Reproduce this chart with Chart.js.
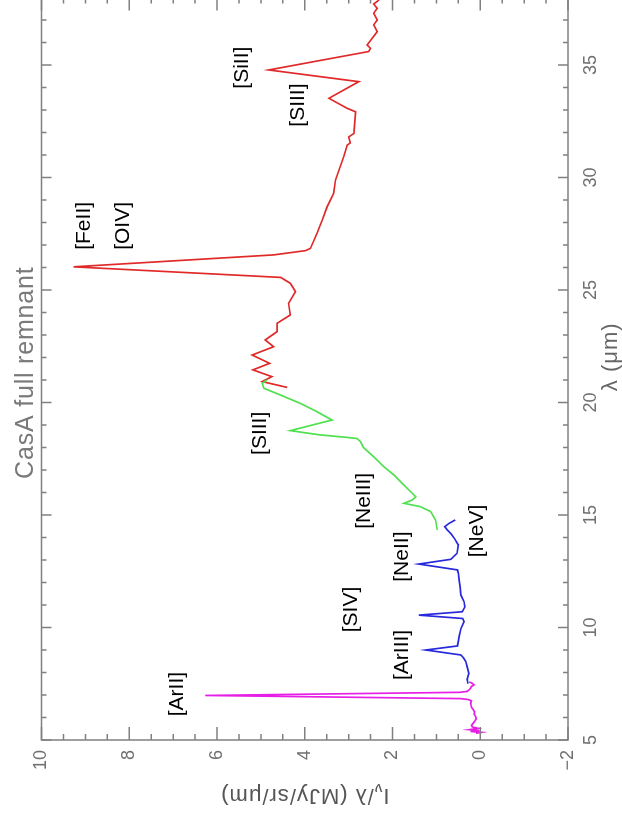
<!DOCTYPE html>
<html>
<head>
<meta charset="utf-8">
<script src="https://cdn.jsdelivr.net/npm/chart.js@4.4.0/dist/chart.umd.min.js"></script>
<style>
html, body { margin: 0; padding: 0; width: 622px; height: 817px; overflow: hidden; background: #ffffff; }
#wrap { position: absolute; left: 0; top: 817px; width: 830px; height: 622px; transform-origin: 0 0; transform: rotate(-90deg); }
canvas { display: block; }
</style>
</head>
<body>
<div id="wrap"><canvas id="c" width="830" height="622"></canvas></div>
<script>
// ---- text ----
const chartTitle = 'CasA full remnant';
const xAxisTitle = 'λ (μm)';
const yAxisTitleMain = 'I';
const yAxisTitleSub = 'ν';
const yAxisTitleRest = '/λ (MJy/sr/μm)';

// ---- tick labels ----
const lambdaTicks = [5, 10, 15, 20, 25, 30, 35];
const intensityTicks = [-2, 0, 2, 4, 6, 8, 10];

// ---- spectrum segments (wavelength in μm, I_nu/lambda) ----
const magentaWave = [5.30, 5.34, 5.38, 5.42, 5.46, 5.52, 5.58, 5.65, 5.75, 5.85, 5.95, 6.05, 6.15, 6.25, 6.35, 6.45, 6.55, 6.65, 6.74, 6.80, 6.84, 6.98, 7.12, 7.16, 7.22, 7.30, 7.38, 7.45, 7.52, 7.58];
const magentaFlux = [0.10, -0.02, 0.22, 0.02, 0.25, 0.05, 0.18, 0.20, 0.16, 0.12, 0.09, 0.11, 0.14, 0.13, 0.16, 0.20, 0.21, 0.22, 0.20, 0.28, 0.45, 6.27, 0.45, 0.30, 0.26, 0.22, 0.20, 0.14, 0.18, 0.25];

const blueWave = [7.50, 7.70, 7.96, 8.26, 8.49, 8.65, 8.78, 9.00, 9.18, 9.40, 9.60, 9.96, 10.26, 10.40, 10.55, 10.70, 10.92, 11.15, 11.44, 11.80, 12.11, 12.40, 12.56, 12.82, 13.03, 13.30, 13.67, 13.96, 14.15, 14.33, 14.48, 14.63, 14.78];
const blueFlux = [0.28, 0.30, 0.26, 0.30, 0.33, 0.38, 0.44, 1.24, 0.52, 0.50, 0.48, 0.44, 0.37, 0.40, 1.40, 0.41, 0.35, 0.37, 0.44, 0.46, 0.48, 0.50, 0.52, 1.40, 0.67, 0.53, 0.50, 0.59, 0.66, 0.75, 0.81, 0.71, 0.57];

const greenWave = [14.33, 14.78, 15.15, 15.37, 15.52, 15.67, 15.81, 16.04, 16.41, 16.78, 17.15, 17.59, 18.00, 18.26, 18.40, 18.45, 18.56, 18.75, 19.22, 19.59, 19.96, 20.33, 20.63, 20.85, 21.00];
const greenFlux = [0.98, 1.02, 1.13, 1.36, 1.74, 1.55, 1.47, 1.59, 1.78, 1.97, 2.20, 2.43, 2.66, 2.73, 2.81, 3.04, 3.65, 4.33, 3.38, 3.72, 4.10, 4.55, 4.93, 4.97, 4.86];

const redWave = [20.67, 20.93, 21.15, 21.45, 21.74, 22.11, 22.48, 22.78, 23.15, 23.52, 23.89, 24.41, 24.93, 25.30, 25.56, 26.03, 26.56, 26.75, 26.85, 27.52, 28.11, 28.70, 29.30, 29.89, 30.93, 31.44, 31.54, 31.80, 31.96, 32.92, 33.07, 33.52, 34.26, 34.78, 35.60, 35.74, 35.89, 36.48, 36.78, 37.00, 37.30, 37.52, 37.71, 37.89];
const redFlux = [4.40, 4.97, 4.75, 5.18, 4.80, 5.20, 4.71, 4.90, 4.63, 4.63, 4.33, 4.37, 4.21, 4.33, 4.55, 9.27, 4.71, 3.98, 3.87, 3.72, 3.60, 3.49, 3.34, 3.30, 3.11, 3.03, 2.96, 3.00, 2.88, 2.84, 3.03, 3.45, 2.77, 4.82, 2.54, 2.50, 2.58, 2.35, 2.43, 2.35, 2.43, 2.35, 2.43, 2.31];

// ---- emission line labels, anchored in data units ----
const lineNames = ['[ArII]', '[ArIII]', '[SIV]', '[NeII]', '[NeV]', '[NeIII]', '[SIII]', '[FeII]', '[OIV]', '[SIII]', '[SiII]'];
const lineWave  = [7.04, 8.78, 10.80, 13.15, 14.29, 15.63, 18.63, 27.85, 27.85, 33.22, 34.88];
const lineFlux  = [6.91, 1.79, 2.95, 1.79, 0.08, 2.65, 5.01, 9.03, 8.13, 4.14, 5.42];

const FONT = '"Liberation Sans", Arial, sans-serif';

function toPoints(w, f) { return w.map((v, i) => ({ x: v, y: f[i] })); }
function seg(w, f, color) {
  return { data: toPoints(w, f), borderColor: color, backgroundColor: color, borderWidth: 1.7,
           showLine: true, pointRadius: 0, tension: 0, fill: false };
}
function fmt(v) { return v < 0 ? '\u2212' + Math.abs(v) : String(v); }

const decor = {
  id: 'decor',
  afterDraw(chart) {
    const { ctx, chartArea: a, scales: { x, y } } = chart;
    ctx.save();
    // frame
    ctx.strokeStyle = '#808080';
    ctx.lineWidth = 1.5;
    ctx.strokeRect(a.left, a.top, a.right - a.left, a.bottom - a.top);
    // inward ticks
    ctx.beginPath();
    for (let v = Math.ceil(x.min); v <= x.max; v += 1) {
      const px = x.getPixelForValue(v);
      const len = v % 5 === 0 ? 10 : 5;
      ctx.moveTo(px, a.bottom); ctx.lineTo(px, a.bottom - len);
      ctx.moveTo(px, a.top); ctx.lineTo(px, a.top + len);
    }
    for (let v = y.min; v <= y.max + 1e-9; v += 0.5) {
      const py = y.getPixelForValue(v);
      const len = Math.abs(v % 2) < 1e-9 ? 13 : 6;
      ctx.moveTo(a.left, py); ctx.lineTo(a.left + len, py);
      ctx.moveTo(a.right, py); ctx.lineTo(a.right - len, py);
    }
    ctx.stroke();

    // title
    ctx.fillStyle = '#7a7a7a';
    ctx.font = '25px ' + FONT;
    ctx.letterSpacing = '0.8px';
    ctx.textAlign = 'center';
    ctx.textBaseline = 'alphabetic';
    ctx.fillText(chartTitle, (a.left + a.right) / 2 - 4, 33);

    // x axis title
    ctx.font = '22px ' + FONT;
    ctx.letterSpacing = '1px';
    ctx.fillStyle = '#666666';
    ctx.fillText(xAxisTitle, (a.left + a.right) / 2 + 12, 617);

    // y axis title with subscript
    ctx.save();
    ctx.translate(28, (a.top + a.bottom) / 2);
    ctx.rotate(-Math.PI / 2);
    ctx.textAlign = 'left';
    const big = '22px ' + FONT, small = '15px ' + FONT;
    ctx.font = big; const w1 = ctx.measureText(yAxisTitleMain).width; const w3 = ctx.measureText(yAxisTitleRest).width;
    ctx.font = small; const w2 = ctx.measureText(yAxisTitleSub).width;
    let sx = -(w1 + w2 + w3) / 2;
    ctx.fillStyle = '#555555';
    ctx.font = big; ctx.fillText(yAxisTitleMain, sx, 0); sx += w1;
    ctx.font = small; ctx.fillText(yAxisTitleSub, sx, 5); sx += w2;
    ctx.font = big; ctx.fillText(yAxisTitleRest, sx, 0);
    ctx.restore();

    // line labels
    ctx.letterSpacing = '0px';
    ctx.fillStyle = '#000000';
    ctx.font = '21px ' + FONT;
    ctx.textAlign = 'center';
    ctx.textBaseline = 'middle';
    lineNames.forEach((n, i) => {
      ctx.fillText(n, x.getPixelForValue(lineWave[i]), y.getPixelForValue(lineFlux[i]));
    });
    ctx.restore();
  }
};

new Chart(document.getElementById('c'), {
  type: 'scatter',
  data: {
    datasets: [
      seg(magentaWave, magentaFlux, '#e61ee6'),
      seg(blueWave, blueFlux, '#2828dc'),
      seg(greenWave, greenFlux, '#4ee04e'),
      seg(redWave, redFlux, '#e02a2a')
    ]
  },
  options: {
    responsive: false,
    animation: false,
    devicePixelRatio: 1,
    layout: { padding: { top: 41.5, right: 10.5, left: 0, bottom: 0 } },
    plugins: { legend: { display: false }, tooltip: { enabled: false }, title: { display: false } },
    scales: {
      x: {
        type: 'linear', position: 'bottom', min: 5, max: 38,
        grid: { display: false, drawTicks: false },
        border: { display: false },
        ticks: { color: '#707070', font: { family: FONT, size: 18 }, padding: 12, maxRotation: 0, minRotation: 0, autoSkip: false, callback: (v) => fmt(v) },
        afterBuildTicks: (s) => { s.ticks = lambdaTicks.map(v => ({ value: v })); },
        afterFit: (s) => { s.height = 54; }
      },
      y: {
        type: 'linear', position: 'left', min: -2, max: 10,
        grid: { display: false, drawTicks: false },
        border: { display: false },
        ticks: { color: '#707070', font: { family: FONT, size: 18 }, padding: 10, autoSkip: false, callback: (v) => fmt(v) },
        afterBuildTicks: (s) => { s.ticks = intensityTicks.map(v => ({ value: v })); },
        afterFit: (s) => { s.width = 77; }
      }
    }
  },
  plugins: [decor]
});
</script>
</body>
</html>
